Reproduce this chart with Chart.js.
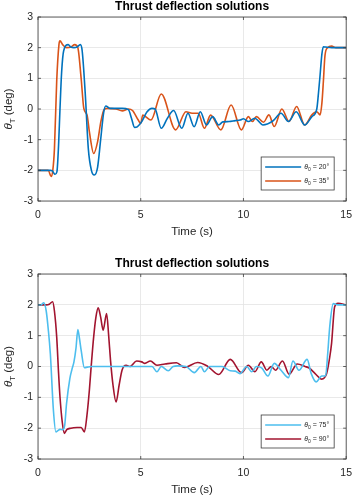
<!DOCTYPE html>
<html>
<head>
<meta charset="utf-8">
<script src="https://cdn.jsdelivr.net/npm/chart.js@4.4.1/dist/chart.umd.min.js"></script>
<style>
  html, body { margin: 0; padding: 0; background: #fff; }
  canvas { display: block; position: absolute; left: 0; }
  #topChart { top: 0; }
  #bottomChart { top: 248px; }
</style>
</head>
<body>
<canvas id="topChart" width="360" height="248"></canvas>
<canvas id="bottomChart" width="360" height="249"></canvas>
<script>
// top panel
const time20 = [0, 0.6, 0.7, 0.83, 0.92, 1.0, 1.07, 1.15, 1.25, 1.47, 1.6, 1.75, 1.9, 2.06, 2.15, 2.3, 2.45, 2.6, 2.74, 2.9, 3.05, 3.2, 3.3, 3.5, 3.8, 4.1, 4.4, 4.55, 4.7, 4.83, 5.05, 5.3, 5.55, 5.7, 6.0, 6.3, 6.6, 7.0, 7.3, 7.6, 7.9, 8.2, 8.5, 8.8, 9.0, 9.3, 9.6, 9.84, 10.0, 10.24, 10.55, 10.95, 11.43, 11.83, 12.19, 12.57, 12.98, 13.33, 13.57, 13.65, 13.73, 13.82, 13.89, 14.0, 14.3, 15];
const theta20 = [-2, -2, -2.02, -2.13, -2.05, -1.2, 0, 1.2, 1.9, 2.1, 2.02, 2.0, 2.02, 2.1, 1.9, 0.5, -1.3, -2.0, -2.15, -1.9, -1.0, -0.1, 0.1, 0.02, 0.02, 0.02, -0.02, -0.3, -0.6, -0.58, -0.41, -0.1, 0.02, 0.0, -0.63, -0.3, -0.05, -0.63, -0.14, -0.58, -0.09, -0.52, -0.25, -0.52, -0.42, -0.41, -0.38, -0.36, -0.32, -0.41, -0.3, -0.52, -0.39, -0.14, -0.41, -0.09, -0.52, -0.25, 0, 0.5, 1.1, 1.8, 2.03, 2.02, 2.0, 2.0];

const time35 = [0, 0.5, 0.64, 0.72, 0.8, 0.91, 1.02, 1.07, 1.2, 1.39, 1.6, 1.79, 1.94, 2.1, 2.23, 2.39, 2.5, 2.71, 2.9, 3.06, 3.21, 3.37, 3.8, 4.1, 4.4, 4.6, 4.88, 5.0, 5.1, 5.5, 6.0, 6.7, 7.2, 7.5, 7.8, 8.1, 8.4, 8.9, 9.4, 9.9, 10.24, 10.44, 10.63, 10.98, 11.24, 11.5, 11.87, 12.22, 12.59, 12.98, 13.33, 13.57, 13.73, 13.82, 13.89, 13.97, 14.1, 14.29, 14.5, 15];
const theta35 = [-2, -2, -2.2, -2.0, -1.3, 0.9, 2.1, 2.22, 2.1, 2.0, 2.02, 2.1, 2.0, 1.0, 0.02, -0.2, -0.74, -1.45, -1.07, -0.41, -0.03, 0.02, 0.0, -0.06, 0.0, -0.05, -0.36, -0.47, -0.2, -0.36, 0.49, -0.68, -0.09, -0.14, -0.14, -0.63, -0.2, -0.68, 0.13, -0.68, -0.25, -0.41, -0.25, -0.43, -0.19, -0.57, 0.0, -0.41, 0.08, -0.52, -0.19, -0.09, -0.19, 0.2, 0.89, 1.75, 2.0, 2.05, 2.0, 2.0];

// bottom panel
const time75 = [0, 0.15, 0.28, 0.4, 0.5, 0.6, 0.75, 0.87, 0.97, 1.07, 1.2, 1.3, 1.39, 1.55, 1.65, 1.75, 1.85, 1.94, 2.02, 2.1, 2.26, 2.4, 2.6, 3, 4, 5, 5.55, 5.79, 6.0, 6.34, 6.58, 6.8, 7.2, 7.61, 7.93, 8.1, 8.35, 8.96, 9.36, 9.6, 9.83, 10.16, 10.4, 10.63, 10.9, 11.19, 11.5, 11.83, 12.19, 12.41, 12.7, 13.1, 13.3, 13.54, 13.81, 14.0, 14.1, 14.2, 14.37, 14.6, 15];
const theta75 = [2, 2, 2.07, 1.8, 1.2, 0.42, -1.42, -2.12, -2.08, -2.04, -2.05, -1.9, -1.2, -0.39, -0.1, 0.15, 0.6, 1.2, 0.9, 0.53, -0.04, -0.02, 0, 0, 0, 0, 0, -0.17, 0, -0.14, 0, 0.02, 0, -0.2, 0, -0.17, 0, 0, -0.14, -0.15, -0.23, 0, -0.17, 0, -0.05, -0.31, 0.1, -0.12, -0.36, 0.18, -0.12, 0.23, -0.23, -0.5, -0.31, -0.3, 0.4, 1.29, 2.04, 2.0, 2.0];

const time90 = [0, 0.4, 0.55, 0.71, 0.8, 0.91, 1.0, 1.07, 1.18, 1.28, 1.4, 1.6, 1.9, 2.1, 2.26, 2.38, 2.5, 2.6, 2.71, 2.82, 2.93, 3.05, 3.17, 3.34, 3.44, 3.53, 3.65, 3.8, 3.95, 4.09, 4.29, 4.48, 4.8, 5.05, 5.2, 5.47, 5.79, 6.18, 6.74, 7.13, 7.77, 8.25, 8.8, 9.36, 9.91, 10.24, 10.56, 10.87, 11.14, 11.35, 11.56, 11.9, 12.22, 12.62, 13.0, 13.2, 13.49, 13.81, 14.05, 14.2, 14.29, 14.44, 14.6, 15];
const theta90 = [2, 2, 2.02, 2.1, 1.8, 0.96, -0.2, -0.98, -1.8, -2.17, -2.05, -2.0, -1.98, -1.98, -2.12, -1.6, -0.77, 0.1, 0.96, 1.6, 1.9, 1.6, 1.18, 1.72, 1.0, 0.2, -0.6, -1.15, -0.6, -0.12, 0.04, 0.0, 0.18, 0.15, 0.1, 0.18, 0.04, 0.08, 0.12, -0.03, 0.13, 0.01, -0.26, 0.23, -0.2, 0.04, -0.17, 0.15, -0.12, 0.0, -0.12, 0.18, -0.25, 0.08, 0.0, -0.05, -0.23, -0.41, -0.23, 0.3, 0.75, 1.94, 2.05, 2.0];

const xTicks = [0, 5, 10, 15];
const yTicks = [-3, -2, -1, 0, 1, 2, 3];

const FONT = '"Liberation Sans", Arial, Helvetica, sans-serif';
const TEXT = '#262626';

function pts(ts, vs) {
  return ts.map((t, i) => ({ x: t, y: vs[i] }));
}

// title, box, inward ticks, y label and legend drawn by hand (matlab look)
const decor = {
  id: 'decor',
  afterDraw(chart, args, opts) {
    const ctx = chart.ctx;
    const a = chart.chartArea;
    const xs = chart.scales.x, ys = chart.scales.y;
    ctx.save();

    // box + ticks
    ctx.strokeStyle = '#3c3c3c';
    ctx.lineWidth = 0.8;
    ctx.strokeRect(a.left, a.top, a.right - a.left, a.bottom - a.top);
    ctx.beginPath();
    xTicks.forEach(v => {
      const px = xs.getPixelForValue(v);
      ctx.moveTo(px, a.bottom); ctx.lineTo(px, a.bottom - 3);
      ctx.moveTo(px, a.top); ctx.lineTo(px, a.top + 3);
    });
    yTicks.forEach(v => {
      const py = ys.getPixelForValue(v);
      ctx.moveTo(a.left, py); ctx.lineTo(a.left + 3, py);
      ctx.moveTo(a.right, py); ctx.lineTo(a.right - 3, py);
    });
    ctx.stroke();

    // title
    ctx.fillStyle = '#000';
    ctx.font = 'bold 12px ' + FONT;
    ctx.textAlign = 'center';
    ctx.textBaseline = 'middle';
    ctx.fillText('Thrust deflection solutions', (a.left + a.right) / 2, opts.titleY);

    // x label
    ctx.fillStyle = TEXT;
    ctx.font = '11.5px ' + FONT;
    ctx.fillText('Time (s)', (a.left + a.right) / 2, a.bottom + 31);

    // y label: theta_T (deg)
    ctx.save();
    ctx.translate(9, (a.top + a.bottom) / 2);
    ctx.rotate(-Math.PI / 2);
    ctx.textAlign = 'left';
    ctx.textBaseline = 'middle';
    const f1 = 'italic 11.5px ' + FONT, f2 = '8px ' + FONT, f3 = '11.5px ' + FONT;
    ctx.font = f1; const w1 = ctx.measureText('θ').width;
    ctx.font = f2; const w2 = ctx.measureText('T').width;
    ctx.font = f3; const w3 = ctx.measureText(' (deg)').width;
    let x0 = -(w1 + w2 + w3) / 2;
    ctx.font = f1; ctx.fillText('θ', x0, 0); x0 += w1;
    ctx.font = f2; ctx.fillText('T', x0, 4); x0 += w2;
    ctx.font = f3; ctx.fillText(' (deg)', x0, 0);
    ctx.restore();

    // legend
    const bw = 73, bh = 33;
    const bx = a.right - 12 - bw, by = a.bottom - 11 - bh;
    ctx.fillStyle = '#fff';
    ctx.fillRect(bx, by, bw, bh);
    ctx.strokeStyle = '#3c3c3c';
    ctx.lineWidth = 0.8;
    ctx.strokeRect(bx, by, bw, bh);
    chart.data.datasets.forEach((ds, i) => {
      const ly = by + 10 + i * 14;
      ctx.strokeStyle = ds.borderColor;
      ctx.lineWidth = 1.6;
      ctx.beginPath();
      ctx.moveTo(bx + 4, ly); ctx.lineTo(bx + 40, ly);
      ctx.stroke();
      ctx.fillStyle = TEXT;
      ctx.textAlign = 'left';
      ctx.textBaseline = 'middle';
      let tx = bx + 43;
      ctx.font = 'italic 7px ' + FONT;
      ctx.fillText('θ', tx, ly); tx += ctx.measureText('θ').width;
      ctx.font = '5px ' + FONT;
      ctx.fillText('0', tx, ly + 2.5); tx += ctx.measureText('0').width;
      ctx.font = '7px ' + FONT;
      ctx.fillText(' = ' + ds.label + '°', tx, ly);
    });
    ctx.restore();
  }
};

function makeChart(id, plotTop, plotBottom, canvasH, titleY, sets) {
  return new Chart(document.getElementById(id), {
    type: 'line',
    data: {
      datasets: sets.map(s => ({
        label: s.label,
        data: pts(s.t, s.v),
        borderColor: s.color,
        borderWidth: 1.6,
        pointRadius: 0,
        fill: false,
        cubicInterpolationMode: 'monotone'
      }))
    },
    options: {
      responsive: false,
      animation: false,
      events: [],
      layout: { padding: { top: plotTop, right: 7, left: 0, bottom: 0 } },
      plugins: {
        legend: { display: false },
        tooltip: { enabled: false },
        title: { display: false },
        decor: { titleY: titleY }
      },
      scales: {
        x: {
          type: 'linear', min: 0, max: 15,
          afterFit: s => { s.height = canvasH - plotBottom; },
          afterBuildTicks: s => { s.ticks = xTicks.map(v => ({ value: v })); },
          ticks: { color: TEXT, font: { family: FONT, size: 10.5 }, padding: 8, maxRotation: 0 },
          grid: { color: '#e3e3e3', lineWidth: 0.8, drawTicks: false },
          border: { display: false }
        },
        y: {
          min: -3, max: 3,
          afterFit: s => { s.width = 38; },
          afterBuildTicks: s => { s.ticks = yTicks.map(v => ({ value: v })); },
          ticks: { color: TEXT, font: { family: FONT, size: 10.5 }, padding: 5 },
          grid: { color: '#e3e3e3', lineWidth: 0.8, drawTicks: false },
          border: { display: false }
        }
      }
    },
    plugins: [decor]
  });
}

makeChart('topChart', 17, 201, 248, 7, [
  { label: '20', t: time20, v: theta20, color: '#0072BD' },
  { label: '35', t: time35, v: theta35, color: '#D95319' }
]);

makeChart('bottomChart', 26, 211, 249, 16, [
  { label: '75', t: time75, v: theta75, color: '#4DBEEE' },
  { label: '90', t: time90, v: theta90, color: '#A2142F' }
]);
</script>
</body>
</html>
